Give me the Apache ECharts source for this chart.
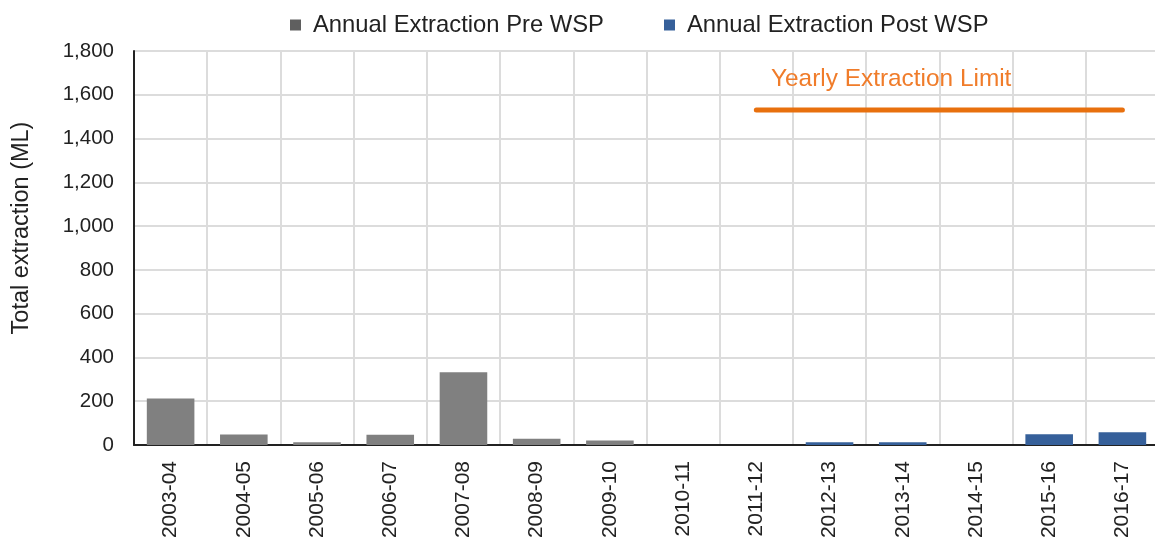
<!DOCTYPE html>
<html>
<head>
<meta charset="utf-8">
<script src="https://cdn.jsdelivr.net/npm/echarts@6/dist/echarts.min.js"></script>
<style>
  html, body { margin: 0; padding: 0; background: #fff; }
  #chart { width: 1155px; height: 542px; }
</style>
</head>
<body>
<div id="chart"></div>
<script>
const years = ['2003-04', '2004-05', '2005-06', '2006-07', '2007-08', '2008-09', '2009-10',
  '2010-11', '2011-12', '2012-13', '2013-14', '2014-15', '2015-16', '2016-17']
const preWsp = [213, 48, 12, 47, 332, 29, 21, null, null, null, null, null, null, null]
const postWsp = [null, null, null, null, null, null, null, 0, 0, 12, 12, 0, 49, 58]
const extractionLimit = [null, null, null, null, null, null, null, null, 1530, 1530, 1530, 1530, 1530, 1530]
const yTicks = [0, 200, 400, 600, 800, 1000, 1200, 1400, 1600, 1800]

const font = 'Liberation Sans, Arial, sans-serif'
const chart = echarts.init(document.getElementById('chart'))

chart.setOption({
  animation: false,
  title: {
    text: 'Yearly Extraction Limit',
    left: 766,
    top: 62,
    textStyle: { color: '#f07c2a', fontSize: 24.4, fontWeight: 'normal', fontFamily: font }
  },
  legend: {
    top: 8,
    left: 285,
    icon: 'rect',
    itemWidth: 11,
    itemHeight: 11,
    itemGap: 60,
    textStyle: { color: '#222', fontSize: 23.8, fontFamily: font, padding: [0, 0, 0, 7] },
    data: [
      { name: 'Annual Extraction Pre WSP', itemStyle: { color: '#5f5f5f' } },
      { name: 'Annual Extraction Post WSP', itemStyle: { color: '#36609a' } }
    ]
  },
  grid: { left: 134, right: -4, top: 51, bottom: 97, outerBoundsMode: 'none' },
  xAxis: {
    type: 'category',
    data: years,
    axisLine: { lineStyle: { color: '#222', width: 2 } },
    axisTick: { show: false },
    splitLine: { show: true, interval: 0, lineStyle: { color: '#dcdcdc', width: 2 } },
    axisLabel: { rotate: 90, margin: 16, interval: 0, color: '#222', fontSize: 21, fontFamily: font }
  },
  yAxis: {
    type: 'value',
    min: yTicks[0],
    max: yTicks[yTicks.length - 1],
    interval: 200,
    name: 'Total extraction (ML)',
    nameLocation: 'middle',
    nameGap: 100,
    nameRotate: 90,
    nameTextStyle: { color: '#222', fontSize: 23.5, fontFamily: font, padding: [0, 0, 0, 40] },
    axisLine: { show: true, lineStyle: { color: '#222', width: 2 } },
    axisTick: { show: false },
    splitLine: { lineStyle: { color: '#dcdcdc', width: 2 } },
    axisLabel: {
      margin: 20,
      color: '#222',
      fontSize: 20.5,
      fontFamily: font,
      formatter: (v) => v.toLocaleString('en-US')
    }
  },
  series: [
    {
      name: 'Annual Extraction Pre WSP',
      type: 'bar',
      stack: 'total',
      barWidth: '65%',
      data: preWsp,
      itemStyle: { color: '#808080' }
    },
    {
      name: 'Annual Extraction Post WSP',
      type: 'bar',
      stack: 'total',
      barWidth: '65%',
      data: postWsp,
      itemStyle: { color: '#36609a' }
    },
    {
      name: 'Yearly Extraction Limit',
      type: 'line',
      data: extractionLimit,
      symbol: 'none',
      lineStyle: { color: '#e8700e', width: 5, cap: 'round' },
      z: 5
    }
  ]
})
</script>
</body>
</html>
